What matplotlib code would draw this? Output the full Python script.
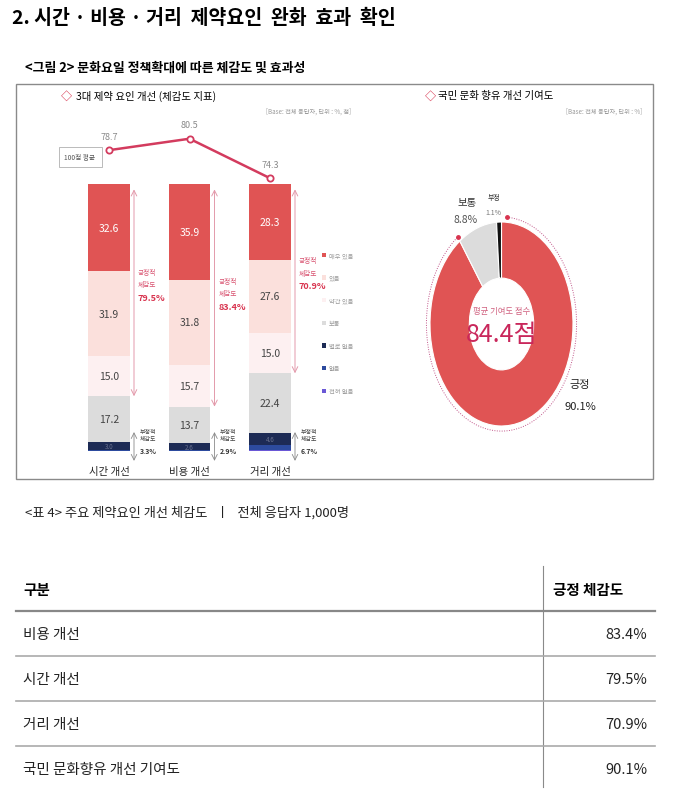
import numpy as np
import matplotlib.pyplot as plt
from matplotlib.patches import Rectangle

plt.rcParams['font.family'] = ['Noto Sans CJK KR', 'DejaVu Sans']

W, H = 674, 803

# --- data ---
categories = ['시간 개선', '비용 개선', '거리 개선']
avg_score = [78.7, 80.5, 74.3]
levels = ['매우 있음', '있음', '약간 있음', '보통', '별로 없음', '없음', '전혀 없음']
very_yes = [32.6, 35.9, 28.3]
yes = [31.9, 31.8, 27.6]
bit_yes = [15.0, 15.7, 15.0]
neutral = [17.2, 13.7, 22.4]
not_much = [3.0, 2.6, 4.6]
no = [0.3, 0.3, 1.7]
never = [0.0, 0.0, 0.4]
positive = [79.5, 83.4, 70.9]
negative = [3.3, 2.9, 6.7]

donut_labels = ['긍정', '보통', '부정']
donut_values = [90.1, 8.8, 1.1]
contrib_score = 84.4

table_items = ['비용 개선', '시간 개선', '거리 개선', '국민 문화향유 개선 기여도']
table_values = [83.4, 79.5, 70.9, 90.1]

level_colors = ['#e05454', '#fbe0dc', '#fdf0f1', '#dcdcdc', '#1d2b55', '#2d4b9e', '#6a58d6']
donut_colors = ['#e05454', '#dcdcdc', '#111111']
RED = '#d8344f'
LINE = '#d33b5e'

fig = plt.figure(figsize=(W / 100, H / 100), dpi=100)


def px_axes(x0, y0, x1, y1):
    # axes placed in pixel coords (origin top-left)
    return fig.add_axes([x0 / W, 1 - y1 / H, (x1 - x0) / W, (y1 - y0) / H])


bg = px_axes(0, 0, W, H)
bg.set_xlim(0, W)
bg.set_ylim(H, 0)
bg.axis('off')

# headings
bg.text(12, 18, '2. 시간 · 비용 · 거리  제약요인  완화  효과  확인',
        fontsize=14, fontweight='bold', va='center')
bg.text(25, 68, '<그림 2> 문화요일 정책확대에 따른 체감도 및 효과성',
        fontsize=9.3, fontweight='bold', va='center')
bg.add_patch(Rectangle((16, 85), 637, 395, fill=False, ec='#8a8a8a', lw=1))

# panel titles
bg.text(66, 96, '◇', color=RED, fontsize=8, fontweight='bold', ha='center', va='center')
bg.text(76, 96, '3대 제약 요인 개선 (체감도 지표)', fontsize=7.5, va='center')
bg.text(351, 112, '[Base: 전체 응답자, 단위 : %, 점]', fontsize=4.5,
        color='#9a9a9a', ha='right', va='center')
bg.text(430, 96, '◇', color=RED, fontsize=8, fontweight='bold', ha='center', va='center')
bg.text(438, 96, '국민 문화 향유 개선 기여도', fontsize=7.5, va='center')
bg.text(642, 112, '[Base: 전체 응답자, 단위 : %]', fontsize=4.5,
        color='#9a9a9a', ha='right', va='center')

bg.text(80, 158, '100점 평균', fontsize=4.8, ha='center', va='center', color='#555',
        bbox=dict(boxstyle='square,pad=0.9', fc='white', ec='#b0b0b0', lw=0.6))

# --- stacked bars ---
cx0, step = 109, 80.5


def bar_axes(y0, y1):
    ax = px_axes(60, y0, 360, y1)
    ax.set_xlim((60 - cx0) / step, (360 - cx0) / step)
    ax.axis('off')
    return ax


axb = bar_axes(185, 452)
axb.set_ylim(0, 100)
x = np.arange(len(categories))
top = np.full(len(categories), 100.0)
segs = [very_yes, yes, bit_yes, neutral, not_much, no, never]
for k, (vals, col, lab) in enumerate(zip(segs, level_colors, levels)):
    v = np.array(vals)
    axb.bar(x, v, 0.52, bottom=top - v, color=col, label=lab)
    for i in x:
        mid = top[i] - v[i] / 2
        if k < 4:
            axb.text(i, mid, f'{v[i]:.1f}', ha='center', va='center', fontsize=7.5,
                     color='white' if k == 0 else '#444')
        elif k == 4:
            axb.text(i, mid, f'{v[i]:.1f}', ha='center', va='center', fontsize=4.5,
                     color='#6a7290')
    top -= v

off = 25 / step
for i in x:
    axb.annotate('', xy=(i + off, 100 - positive[i]), xytext=(i + off, 98),
                 arrowprops=dict(arrowstyle='<->', color='#e39aab', lw=0.7,
                                 shrinkA=0, shrinkB=0))
    yt = 100 - very_yes[i] + 1.2
    axb.text(i + 0.36, yt, '긍정적\n체감도', color='#d8506e', fontsize=4.8,
             va='top', linespacing=1.7)
    axb.text(i + 0.36, yt - 11, f'{positive[i]}%', color=RED, fontsize=6.5,
             fontweight='bold', va='center')
    axb.annotate('', xy=(i + off, -3.7), xytext=(i + off, 7.1),
                 arrowprops=dict(arrowstyle='<->', color='#8a8a8a', lw=0.6,
                                 shrinkA=0, shrinkB=0), annotation_clip=False)
    axb.text(i + 0.38, 8.2, '부정적\n체감도', color='#444', fontsize=4.3,
             va='top', linespacing=1.5)
    axb.text(i + 0.38, 0, f'{negative[i]}%', color='#333', fontsize=5,
             fontweight='bold', va='center')
    axb.text(i, -7.5, categories[i], ha='center', va='center', fontsize=7.5, color='#222')

axb.legend(loc='upper left', bbox_to_anchor=(322 / W, 1 - 252 / H),
           bbox_transform=fig.transFigure, frameon=False, fontsize=4.5,
           labelcolor='#9a9a9a', handlelength=0.7, handleheight=0.7,
           handletextpad=0.4, labelspacing=2.35, borderpad=0, borderaxespad=0)

# --- average score line ---
axl = bar_axes(120, 190)
axl.set_ylim(72.6, 83.6)
axl.plot(x, avg_score, color=LINE, lw=1.8, marker='o', ms=4.5, mfc='white',
         mew=1.3, clip_on=False)
for i, v in enumerate(avg_score):
    axl.annotate(f'{v}', (i, v), xytext=(0, 10), textcoords='offset points',
                 ha='center', va='center', fontsize=6.5, color='#8a8a8a')

# --- donut ---
rx, ry, dcx, dcy = 71.5, 102, 501.5, 325
axd = px_axes(dcx - 1.4 * rx, dcy - 1.4 * ry, dcx + 1.4 * rx, dcy + 1.4 * ry)
axd.pie(donut_values, colors=donut_colors, startangle=90, counterclock=False,
        radius=1, wedgeprops=dict(width=0.55, edgecolor='white', linewidth=0.8))
axd.set_aspect('auto')
axd.set_xlim(-1.4, 1.4)
axd.set_ylim(-1.4, 1.4)
end = 90 - 360 * donut_values[0] / 100
theta = np.radians(np.linspace(86, end, 300))
axd.plot(1.05 * np.cos(theta), 1.05 * np.sin(theta), ls=(0, (1, 1.5)),
         color='#c2568a', lw=0.7)
axd.plot(1.05 * np.cos(theta[[0, -1]]), 1.05 * np.sin(theta[[0, -1]]), 'o',
         ms=2.5, color=RED)
axd.text(0, 0.13, '평균 기여도 점수', ha='center', va='center', fontsize=6, color='#d0607f')
axd.text(0, -0.1, f'{contrib_score}점', ha='center', va='center', fontsize=18,
         color='#c9275b')

bg.text(467, 203, donut_labels[1], fontsize=7.5, ha='center', va='center', color='#333')
bg.text(466, 220, f'{donut_values[1]}%', fontsize=7.5, ha='center', va='center', color='#555')
bg.text(494, 198, donut_labels[2], fontsize=5, ha='center', va='center', color='#333')
bg.text(493, 213, f'{donut_values[2]}%', fontsize=5, ha='center', va='center', color='#777')
bg.text(580, 385, donut_labels[0], fontsize=8, ha='center', va='center', color='#222')
bg.text(580, 407, f'{donut_values[0]}%', fontsize=8, ha='center', va='center', color='#222')

# --- table ---
bg.text(25, 513, '<표 4> 주요 제약요인 개선 체감도   ㅣ   전체 응답자 1,000명',
        fontsize=9.5, va='center', color='#222')
tx0, tx1, tsep = 16, 655, 543
row_y0, row_h = 612, 45
bg.text(23, 590, '구분', fontweight='bold', fontsize=10.5, va='center')
bg.text(553, 590, '긍정 체감도', fontweight='bold', fontsize=10.5, va='center')
bg.plot([tsep, tsep], [567, 788], color='#8a8a8a', lw=0.8)
for i, (item, val) in enumerate(zip(table_items, table_values)):
    yr = row_y0 + i * row_h
    bg.plot([tx0, tx1], [yr, yr], color='#888' if i == 0 else '#aaa',
            lw=1.6 if i == 0 else 1.2)
    bg.text(23, yr + 23, item, fontsize=10.5, va='center', color='#222')
    bg.text(647, yr + 23, f'{val}%', fontsize=10.5, va='center', ha='right', color='#222')

fig.savefig('out.png', dpi=100)
